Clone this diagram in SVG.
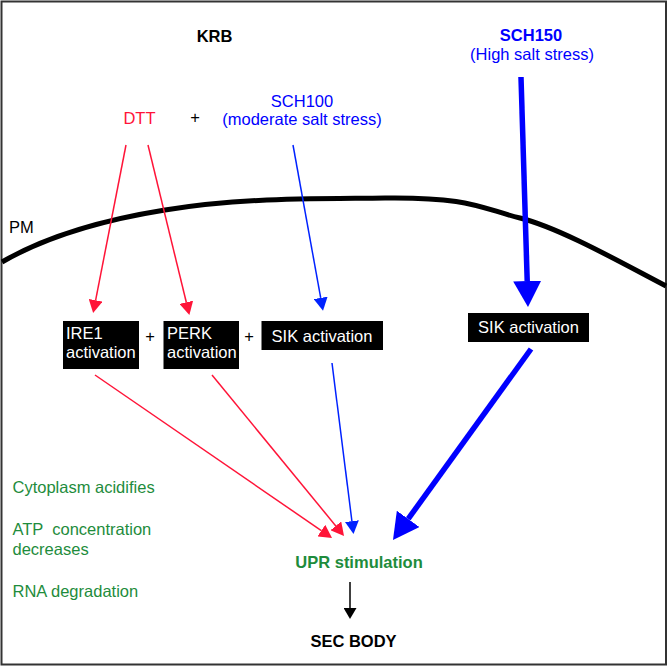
<svg xmlns="http://www.w3.org/2000/svg" width="668" height="667" viewBox="0 0 668 667">
<style>
text{font-family:"Liberation Sans",Arial,sans-serif;font-size:16.5px}
.b{font-weight:bold}
.red{fill:#ff1438}
.blue{fill:#0000ff}
.green{fill:#1e8c3c}
.white{fill:#ffffff}
.mid{text-anchor:middle}
.box{fill:#000000}
.lr{stroke:#ff1438;stroke-width:1.5;fill:none}
.lb{stroke:#0022ff;stroke-width:1.5;fill:none}
.lB{stroke:#0000ff;stroke-width:5.5;fill:none}
.lk{stroke:#000000;stroke-width:1.5;fill:none}
</style>
<defs>
<marker id="mr" viewBox="0 0 13 14" markerWidth="13" markerHeight="14" refX="0" refY="7" orient="auto" markerUnits="userSpaceOnUse"><path d="M0,0 L13,7 L0,14 z" fill="#ff1438"/></marker>
<marker id="mb" viewBox="0 0 13 14" markerWidth="13" markerHeight="14" refX="0" refY="7" orient="auto" markerUnits="userSpaceOnUse"><path d="M0,0 L13,7 L0,14 z" fill="#0022ff"/></marker>
<marker id="mB" viewBox="0 0 26 28" markerWidth="26" markerHeight="28" refX="0" refY="14" orient="auto" markerUnits="userSpaceOnUse"><path d="M0,0 L26,14 L0,28 z" fill="#0000ff"/></marker>
<marker id="mk" viewBox="0 0 11 13" markerWidth="11" markerHeight="13" refX="0" refY="6.5" orient="auto" markerUnits="userSpaceOnUse"><path d="M0,0 L11,6.5 L0,13 z" fill="#000000"/></marker>
</defs>
<rect x="1.5" y="1.5" width="664.5" height="663" fill="#ffffff" stroke="#333333" stroke-width="2"/>
<g id="membrane">
<path d="M2,262 C40,240 90,222 165,210 S300,199 385,198 S480,208 520,218 S620,262 666,286" fill="none" stroke="#000000" stroke-width="5"/>
<text x="9" y="233">PM</text>
</g>
<g id="KRB"><text class="b mid" x="214.5" y="42">KRB</text></g>
<g id="SCH150"><text class="b mid blue" x="531" y="41">SCH150</text><text class="mid blue" x="532" y="60">(High salt stress)</text></g>
<g id="DTT"><text class="mid red" x="139.5" y="124">DTT</text></g>
<g id="plus1"><text class="mid" x="195" y="123">+</text></g>
<g id="SCH100"><text class="mid blue" x="302" y="107">SCH100</text><text class="mid blue" x="302" y="125">(moderate salt stress)</text></g>
<g id="IRE1"><rect class="box" x="63" y="321" width="76" height="48"/><text class="white" x="66" y="339">IRE1</text><text class="white" x="66" y="358">activation</text></g>
<g id="plus2"><text class="mid" x="150" y="342">+</text></g>
<g id="PERK"><rect class="box" x="163.5" y="321" width="75.5" height="48"/><text class="white" x="167" y="339">PERK</text><text class="white" x="167" y="358">activation</text></g>
<g id="plus3"><text class="mid" x="249" y="342">+</text></g>
<g id="SIK1"><rect class="box" x="261.5" y="321" width="121.5" height="29"/><text class="white mid" x="322" y="341.5">SIK activation</text></g>
<g id="SIK2"><rect class="box" x="468" y="313" width="121" height="29"/><text class="white mid" x="528.5" y="333">SIK activation</text></g>
<g id="UPR"><text class="b mid green" x="359" y="568">UPR stimulation</text></g>
<g id="SEC"><text class="b mid" x="353.5" y="647">SEC BODY</text></g>
<g id="notes">
<text class="green" x="12.5" y="493">Cytoplasm acidifies</text>
<text class="green" x="12.5" y="535" xml:space="preserve">ATP  concentration</text>
<text class="green" x="12.5" y="555">decreases</text>
<text class="green" x="12.5" y="597">RNA degradation</text>
</g>
<g id="connectors">
<line class="lr" x1="126" y1="145" x2="95.6" y2="300.3" marker-end="url(#mr)"/>
<line class="lr" x1="148" y1="145" x2="186.3" y2="302.3" marker-end="url(#mr)"/>
<line class="lb" x1="293" y1="145" x2="320.7" y2="297.9" marker-end="url(#mb)"/>
<line class="lB" x1="521" y1="77" x2="527.2" y2="281" marker-end="url(#mB)"/>
<line class="lr" x1="95" y1="375" x2="321.3" y2="530.6" marker-end="url(#mr)"/>
<line class="lr" x1="212" y1="375" x2="335.8" y2="525.9" marker-end="url(#mr)"/>
<line class="lb" x1="332" y1="363" x2="351.9" y2="521.1" marker-end="url(#mb)"/>
<line class="lB" x1="531" y1="349" x2="408.2" y2="518.9" marker-end="url(#mB)"/>
<line class="lk" x1="350" y1="582" x2="350" y2="608" marker-end="url(#mk)"/>
</g>
</svg>
